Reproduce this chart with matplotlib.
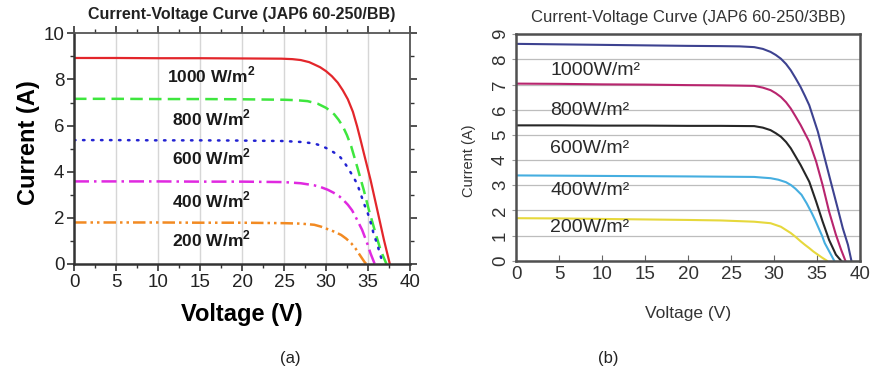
import matplotlib
matplotlib.use("Agg")
import matplotlib.pyplot as plt
from matplotlib.ticker import MultipleLocator

plt.rcParams['font.family'] = ['Liberation Sans', 'DejaVu Sans']
plt.rcParams['mathtext.fontset'] = 'custom'
plt.rcParams['mathtext.rm'] = 'Liberation Sans'
plt.rcParams['mathtext.bf'] = 'Liberation Sans:bold'

# ── (a) JAP6 60-250/BB ───────────────────────────────────────────────────────
irr_a = ["1000", "800", "600", "400", "200"]
v_a_1000 = [0, 5, 10, 15, 20, 24.7, 26.0, 27.0, 28.0, 28.6, 29.3, 30.0, 30.7, 31.4, 32.0, 32.6,
            33.2, 33.7, 34.1, 34.5, 35.3, 36.1, 36.9, 37.6]
i_a_1000 = [8.93, 8.93, 8.92, 8.92, 8.91, 8.90, 8.88, 8.84, 8.75, 8.65, 8.53, 8.36, 8.14, 7.86, 7.53, 7.14,
            6.60, 5.97, 5.40, 4.81, 3.65, 2.35, 1.04, 0.0]
v_a_800 = [0, 5, 10, 15, 20, 25, 26.5, 27.8, 29.0, 30.0, 30.5, 31.0, 31.5, 32.0, 32.5, 33.0,
           33.7, 34.5, 35.1, 35.9, 36.5, 37.2]
i_a_800 = [7.16, 7.16, 7.15, 7.15, 7.14, 7.12, 7.10, 7.06, 6.95, 6.77, 6.64, 6.48, 6.25, 5.97, 5.58, 5.10,
           4.23, 3.20, 2.35, 1.33, 0.60, 0.0]
v_a_600 = [0, 5, 10, 15, 20, 25, 27.0, 28.0, 28.8, 29.4, 30.0, 30.6, 31.1, 31.6, 32.0, 32.4, 33.1,
           33.7, 34.1, 34.5, 35.0, 35.4, 35.7, 36.1, 36.4, 36.8]
i_a_600 = [5.37, 5.37, 5.36, 5.36, 5.35, 5.33, 5.29, 5.25, 5.20, 5.13, 5.03, 4.91, 4.80, 4.67, 4.50, 4.28, 3.87,
           3.48, 3.07, 2.64, 2.17, 1.70, 1.26, 0.87, 0.46, 0.0]
v_a_400 = [0, 5, 10, 15, 20, 25, 27.0, 28.6, 29.4, 30.2, 30.9, 31.6, 32.1, 32.6, 33.1, 33.5,
           34.3, 34.9, 35.3, 35.8]
i_a_400 = [3.58, 3.58, 3.58, 3.57, 3.57, 3.55, 3.50, 3.41, 3.33, 3.22, 3.09, 2.93, 2.76, 2.57, 2.33, 2.06,
           1.48, 0.90, 0.46, 0.0]
v_a_200 = [0, 5, 10, 15, 20, 25, 27.0, 28.6, 29.4, 30.2, 31.0, 31.8, 32.4, 33.0, 33.5, 33.9, 34.3, 34.6, 34.8]
i_a_200 = [1.80, 1.80, 1.80, 1.79, 1.79, 1.77, 1.75, 1.70, 1.62, 1.51, 1.40, 1.26, 1.10, 0.90, 0.68, 0.46, 0.24, 0.08, 0.0]

# ── (b) JAP6 60-250/3BB ───────────────────────────────────────────────────────
irr_b = ["1000", "800", "600", "400", "200"]
v_b_1000 = [0, 5, 10, 15, 20, 23.8, 26.0, 27.7, 28.7, 29.6, 30.2, 30.8, 31.4, 31.95, 32.5, 33.1, 33.6,
            34.1, 35.1, 35.8, 36.6, 37.4, 38.0, 38.6, 39.0]
i_b_1000 = [8.62, 8.60, 8.58, 8.56, 8.54, 8.53, 8.52, 8.49, 8.42, 8.30, 8.18, 8.03, 7.82, 7.57, 7.26, 6.90, 6.55,
            6.18, 5.13, 4.20, 3.14, 2.09, 1.29, 0.63, 0.0]
v_b_800 = [0, 5, 10, 15, 20, 23.8, 26.0, 27.7, 28.7, 29.6, 30.2, 30.8, 31.4, 31.95, 32.5, 33.1,
           34.1, 34.9, 35.65, 36.4, 37.2, 37.8, 38.3]
i_b_800 = [7.04, 7.03, 7.01, 7.00, 6.98, 6.97, 6.96, 6.95, 6.88, 6.78, 6.66, 6.51, 6.30, 6.05, 5.74, 5.39,
           4.73, 3.94, 3.01, 1.96, 1.03, 0.44, 0.0]
v_b_600 = [0, 5, 10, 15, 20, 23.8, 27.7, 28.7, 29.6, 30.2, 30.8, 31.4, 31.95, 32.5, 33.1,
           34.1, 34.9, 35.65, 36.4, 37.2, 37.8]
i_b_600 = [5.38, 5.38, 5.37, 5.37, 5.36, 5.36, 5.35, 5.29, 5.19, 5.07, 4.93, 4.72, 4.47, 4.15, 3.80,
           3.14, 2.35, 1.56, 0.83, 0.24, 0.0]
v_b_400 = [0, 5, 10, 15, 20, 23.8, 27.7, 28.8, 29.6, 30.5, 31.4, 32.0, 32.5, 33.2, 33.8, 34.4,
           34.8, 35.2, 35.6, 35.9, 36.5, 37.0]
i_b_400 = [3.39, 3.38, 3.37, 3.36, 3.35, 3.34, 3.33, 3.30, 3.28, 3.22, 3.12, 3.00, 2.86, 2.62, 2.28, 1.89,
           1.60, 1.29, 0.98, 0.70, 0.32, 0.0]
v_b_200 = [0, 5, 10, 15, 20, 23.8, 27.7, 29.6, 30.8, 31.95, 32.5, 33.1, 33.6, 34.1, 34.6, 35.1, 35.6, 36.15]
i_b_200 = [1.69, 1.68, 1.66, 1.64, 1.62, 1.60, 1.55, 1.49, 1.35, 1.10, 0.95, 0.77, 0.63, 0.50, 0.36, 0.24, 0.12, 0.0]

curves_a = [(v_a_1000, i_a_1000), (v_a_800, i_a_800), (v_a_600, i_a_600),
            (v_a_400, i_a_400), (v_a_200, i_a_200)]
curves_b = [(v_b_1000, i_b_1000), (v_b_800, i_b_800), (v_b_600, i_b_600),
            (v_b_400, i_b_400), (v_b_200, i_b_200)]

fig = plt.figure(figsize=(8.72, 3.75), dpi=100)

# ── panel (a) ────────────────────────────────────────────────────────────────
ax = fig.add_axes([74/872, 1 - 264/375, 336/872, 230.7/375])
colors_a = ["#e3262b", "#3ee63e", "#2323d2", "#e029e0", "#f28a22"]
styles_a = ["-", (0, (5, 2.5)), (0, (0.6, 3.0)), (0, (6, 2, 1, 2)), (0, (5, 1.6, 1, 1.6, 1, 1.6))]
for (v, i), c, ls in zip(curves_a, colors_a, styles_a):
    ax.plot(v, i, color=c, ls=ls, lw=1.8 if ls != "-" else 1.6,
            dash_capstyle="round" if c == "#2323d2" else "butt")

ax.set_xlim(0, 40)
ax.set_ylim(0, 10)
ax.xaxis.set_major_locator(MultipleLocator(5))
ax.xaxis.set_minor_locator(MultipleLocator(2.5))
ax.yaxis.set_major_locator(MultipleLocator(2))
ax.yaxis.set_minor_locator(MultipleLocator(1))
ax.grid(axis="x", which="major", color="#d6d6d6", lw=1.0)
ax.tick_params(which="both", direction="out", top=True, right=True,
               color="#333333", labelsize=13.5, labelcolor="#222222", pad=2)
ax.tick_params(which="major", length=5, width=1.2)
ax.tick_params(which="minor", length=3, width=1.0)
for s in ["left", "bottom"]:
    ax.spines[s].set_color("#333333"); ax.spines[s].set_linewidth(1.8)
for s in ["top", "right"]:
    ax.spines[s].set_color("#555555"); ax.spines[s].set_linewidth(1.3)

ax.set_xlabel("Voltage (V)", fontsize=17, fontweight="bold")
ax.set_ylabel("Current (A)", fontsize=17, fontweight="bold", va="center")
ax.xaxis.set_label_coords(0.5, -0.17)
ax.yaxis.set_label_coords(-0.135, 0.525)
ax.set_title("Current-Voltage Curve (JAP6 60-250/BB)", fontsize=11.5,
             fontweight="bold", color="#222222", pad=10)

lab_y_a = [8.19, 6.33, 4.64, 2.77, 1.08]
for name, y in zip(irr_a, lab_y_a):
    ax.text(16.4, y, f"{name} W/m" + r"$^{\mathbf{2}}$", ha="center", va="center",
            fontsize=12.5, fontweight="bold", color="#1a1a1a")

# ── panel (b) ────────────────────────────────────────────────────────────────
bx = fig.add_axes([516/872, 1 - 260.7/375, 344/872, 226.4/375])
colors_b = ["#3d4290", "#b8256e", "#262626", "#45aee0", "#e6d83c"]
for (v, i), c in zip(curves_b, colors_b):
    bx.plot(v, i, color=c, lw=1.5)

bx.set_xlim(0, 40)
bx.set_ylim(0, 9)
bx.xaxis.set_major_locator(MultipleLocator(5))
bx.yaxis.set_major_locator(MultipleLocator(1))
bx.grid(axis="y", color="#bdbdbd", lw=0.9)
bx.tick_params(axis="x", direction="in", length=4, color="#666666",
               labelsize=13.5, labelcolor="#333333", pad=4)
bx.tick_params(axis="y", direction="out", length=3, color="#999999",
               labelsize=13.5, labelcolor="#333333", labelrotation=90, pad=2)
for lbl in bx.get_yticklabels():
    lbl.set_va("center")
for s in bx.spines.values():
    s.set_color("#505050"); s.set_linewidth(1.8)

bx.set_xlabel("Voltage (V)", fontsize=12.5, color="#333333")
bx.set_ylabel("Current (A)", fontsize=10.5, color="#333333", va="center")
bx.xaxis.set_label_coords(0.5, -0.2)
bx.yaxis.set_label_coords(-0.138, 0.44)
bx.set_title("Current-Voltage Curve (JAP6 60-250/3BB)", fontsize=12,
             color="#333333", pad=9)

lab_y_b = [7.58, 5.99, 4.48, 2.80, 1.30]
for name, y in zip(irr_b, lab_y_b):
    bx.text(4.0, y, f"{name}W/m²", ha="left", va="center",
            fontsize=14, color="#2a2a2a")

# ── captions ─────────────────────────────────────────────────────────────────
fig.text(290/872, 1 - 359/375, "(a)", ha="center", va="center", fontsize=12, color="#222222")
fig.text(608/872, 1 - 359/375, "(b)", ha="center", va="center", fontsize=12, color="#222222")

plt.savefig("out.png", dpi=100)
plt.close()
